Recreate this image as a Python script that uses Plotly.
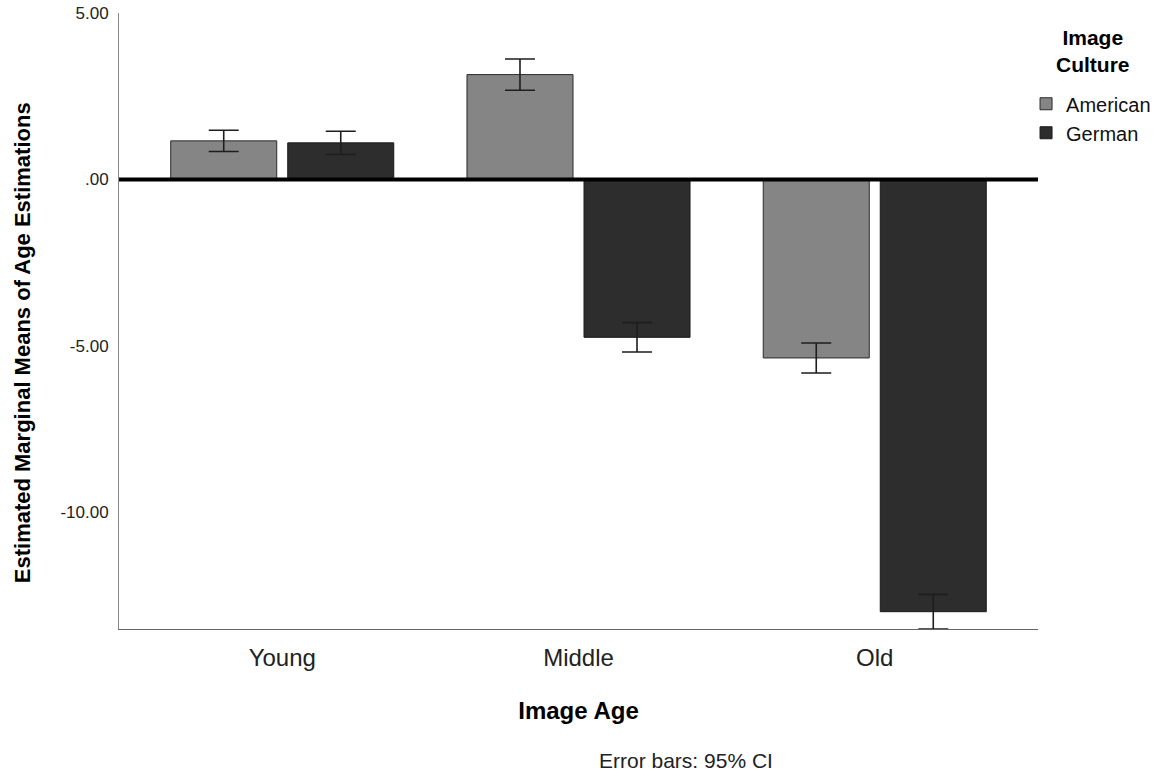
import plotly.graph_objects as go

categories = ["Young", "Middle", "Old"]
american = [1.16, 3.15, -5.36]
american_ci = [0.32, 0.47, 0.45]
german = [1.10, -4.74, -12.98]
german_ci = [0.35, 0.44, 0.52]
y_ticks = [5, 0, -5, -10]
y_tick_labels = ["5.00", ".00", "-5.00", "-10.00"]

FONT = "Liberation Sans, Arial, sans-serif"

fig = go.Figure()
fig.add_trace(go.Bar(
    name="American", x=categories, y=american,
    marker=dict(color="#858585", line=dict(color="#2a2a2a", width=1)),
    error_y=dict(type="data", array=american_ci, visible=True,
                 color="#1e1e1e", thickness=1.6, width=15),
))
fig.add_trace(go.Bar(
    name="German", x=categories, y=german,
    marker=dict(color="#2d2d2d", line=dict(color="#1a1a1a", width=1)),
    error_y=dict(type="data", array=german_ci, visible=True,
                 color="#1e1e1e", thickness=1.6, width=15),
))

fig.add_shape(type="line", xref="paper", x0=0, x1=1, yref="y", y0=0, y1=0,
              line=dict(color="black", width=4), layer="above")

fig.update_layout(
    width=1162, height=773,
    margin=dict(l=119, r=124, t=13, b=144, autoexpand=False),
    paper_bgcolor="white", plot_bgcolor="white",
    barmode="group", bargap=0.21, bargroupgap=0.094,
    font=dict(family=FONT, color="#111"),
    showlegend=True,
    legend=dict(
        xref="container", yref="container",
        x=0.883, xanchor="left", y=0.891, yanchor="top",
        font=dict(size=20, color="#111"),
        itemwidth=30, tracegroupgap=0,
        bgcolor="rgba(0,0,0,0)",
    ),
    xaxis=dict(
        range=[-0.551, 2.551], showline=True, linecolor="#666", linewidth=1,
        showgrid=False, ticks="", tickfont=dict(size=24, color="#222"),
        ticklabelstandoff=7, automargin=False,
        title=dict(text="<b>Image Age</b>", font=dict(size=24, color="#000"), standoff=32),
        zeroline=False,
    ),
    yaxis=dict(
        range=[-13.5, 5.0], showline=True, linecolor="#888", linewidth=1,
        showgrid=False, zeroline=False, ticks="", automargin=False,
        tickvals=y_ticks, ticktext=y_tick_labels,
        tickfont=dict(size=17, color="#222"), ticklabelstandoff=6,
    ),
    annotations=[
        dict(text="<b>Estimated Marginal Means of Age Estimations</b>",
             xref="paper", yref="paper", x=-0.1055, y=0.464, textangle=-90,
             showarrow=False, font=dict(size=22, color="#000"),
             xanchor="center", yanchor="middle"),
        dict(text="<b>Image<br>Culture</b>", xref="paper", yref="paper",
             x=1.0598, y=0.9383, showarrow=False,
             font=dict(size=21, color="#000"), xanchor="center", yanchor="middle"),
        dict(text="Error bars: 95% CI", xref="paper", yref="paper",
             x=0.617, y=-0.213, showarrow=False,
             font=dict(size=21, color="#222"), xanchor="center", yanchor="middle"),
    ],
)

fig.write_html("out.html")
